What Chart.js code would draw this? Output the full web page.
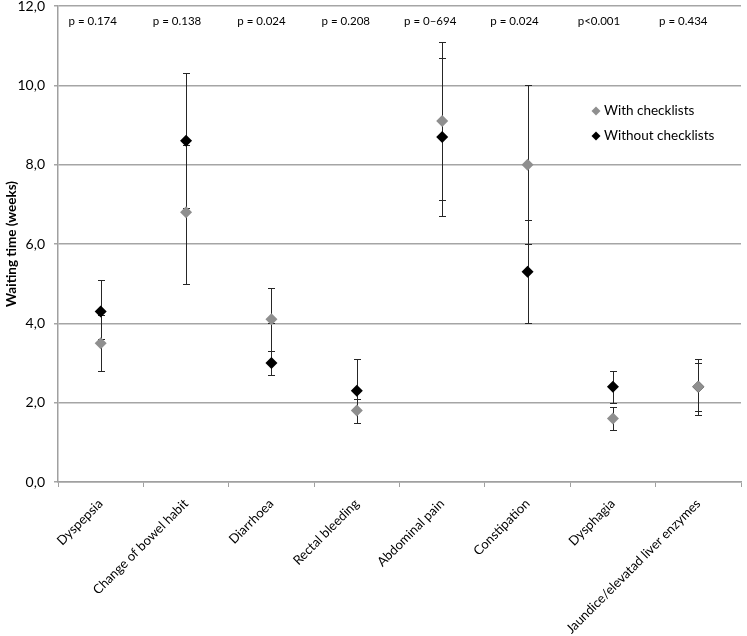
<!DOCTYPE html>
<html>
<head>
<meta charset="utf-8">
<script src="https://cdn.jsdelivr.net/npm/chart.js@4/dist/chart.umd.min.js"></script>
<style>
  html, body { margin: 0; padding: 0; background: #fff; }
  #wrap { width: 747px; height: 636px; position: relative; }
</style>
</head>
<body>
<div id="wrap"><canvas id="chart"></canvas></div>
<script>
// --- Data ---
const categories = ["Dyspepsia", "Change of bowel habit", "Diarrhoea", "Rectal bleeding",
    "Abdominal pain", "Constipation", "Dysphagia", "Jaundice/elevatad liver enzymes"];
const withMean    = [3.5, 6.8, 4.1, 1.8, 9.1, 8.0, 1.6, 2.4];
const withLow     = [2.8, 5.0, 3.3, 1.5, 7.1, 6.0, 1.3, 1.8];
const withHigh    = [4.2, 8.5, 4.9, 2.1, 11.1, 10.0, 1.9, 3.1];
const withoutMean = [4.3, 8.6, 3.0, 2.3, 8.7, 5.3, 2.4, 2.4];
const withoutLow  = [3.6, 6.9, 2.7, 1.8, 6.7, 4.0, 2.0, 1.7];
const withoutHigh = [5.1, 10.3, 4.0, 3.1, 10.7, 6.6, 2.8, 3.0];
const pValues = ["p = 0.174", "p = 0.138", "p = 0.024", "p = 0.208",
    "p = 0\u2013694", "p = 0.024", "p<0.001", "p = 0.434"];
const yTicks = [0, 2, 4, 6, 8, 10, 12];

const FONT = "Lato, sans-serif";
const GREY = "#8f8f8f";
const BLACK = "#000000";

// --- error bars, p labels and legend ---
const extras = {
    id: "extras",
    beforeDatasetsDraw(chart) {
        const { ctx, scales: { x, y } } = chart;
        const bars = [[withLow, withHigh], [withoutLow, withoutHigh]];
        ctx.save();
        ctx.strokeStyle = "#262626";
        ctx.lineWidth = 1;
        bars.forEach(([lo, hi]) => {
            lo.forEach((l, i) => {
                const px = Math.round(x.getPixelForValue(i)) + 0.5;
                const y1 = Math.round(y.getPixelForValue(l)) + 0.5;
                const y2 = Math.round(y.getPixelForValue(hi[i])) + 0.5;
                ctx.beginPath();
                ctx.moveTo(px, y1); ctx.lineTo(px, y2);
                ctx.moveTo(px - 3.5, y1); ctx.lineTo(px + 3.5, y1);
                ctx.moveTo(px - 3.5, y2); ctx.lineTo(px + 3.5, y2);
                ctx.stroke();
            });
        });
        ctx.restore();
    },
    afterDraw(chart) {
        const { ctx, scales: { x } } = chart;
        ctx.save();
        ctx.fillStyle = "#000";
        ctx.font = "11.5px " + FONT;
        ctx.textAlign = "center";
        ctx.textBaseline = "middle";
        // the p labels sit a little left of each category, drifting more to the right
        pValues.forEach((p, i) => ctx.fillText(p, x.getPixelForValue(i) - 8 - i, 21));

        // legend
        const items = [["With checklists", GREY, 111], ["Without checklists", BLACK, 136]];
        ctx.font = "13.5px " + FONT;
        ctx.textAlign = "left";
        items.forEach(([txt, col, ly]) => {
            ctx.fillStyle = col;
            ctx.beginPath();
            ctx.moveTo(596, ly - 4.5); ctx.lineTo(600.5, ly);
            ctx.lineTo(596, ly + 4.5); ctx.lineTo(591.5, ly);
            ctx.closePath(); ctx.fill();
            ctx.fillStyle = "#000";
            ctx.fillText(txt, 604, ly);
        });
        ctx.restore();
    }
};

const ctx = document.getElementById("chart").getContext("2d");
new Chart(ctx, {
    type: "line",
    data: {
        labels: categories,
        datasets: [
            { label: "With checklists", data: withMean, showLine: false,
              pointStyle: "rectRot", pointRadius: 6, pointHoverRadius: 6,
              backgroundColor: GREY, borderColor: GREY, borderWidth: 0 },
            { label: "Without checklists", data: withoutMean, showLine: false,
              pointStyle: "rectRot", pointRadius: 6, pointHoverRadius: 6,
              backgroundColor: BLACK, borderColor: BLACK, borderWidth: 0 }
        ]
    },
    options: {
        responsive: true,
        maintainAspectRatio: false,
        animation: false,
        layout: { padding: { top: 5, right: 1, left: 0, bottom: 0 } },
        plugins: { legend: { display: false }, tooltip: { enabled: false } },
        scales: {
            x: {
                offset: true,
                afterFit: (s) => { s.height = 154; s.paddingLeft = 0; s.paddingRight = 0; },
                grid: { offset: true, drawOnChartArea: false, drawTicks: true, tickLength: 5, color: "#a0a0a0" },
                border: { color: "#a0a0a0", width: 1.5 },
                ticks: {
                    maxRotation: 45, minRotation: 45, autoSkip: false, padding: 9,
                    color: "#000", font: { family: FONT, size: 13 }
                }
            },
            y: {
                min: 0, max: 12,
                afterFit: (s) => { s.width = 58; s.paddingTop = 0; s.paddingBottom = 0; },
                afterBuildTicks: (s) => { s.ticks = yTicks.map(v => ({ value: v })); },
                grid: { color: "#a5a5a5", lineWidth: 1.5, tickLength: 4 },
                border: { color: "#a0a0a0", width: 1.5 },
                ticks: {
                    padding: 9, color: "#000", font: { family: FONT, size: 14 },
                    callback: (v) => v.toFixed(1).replace(".", ",")
                },
                title: {
                    display: true, text: "Waiting time (weeks)", color: "#000",
                    font: { family: FONT, size: 13.5, weight: "bold" }, padding: { top: 4, bottom: 0 }
                }
            }
        }
    },
    plugins: [extras]
});
</script>
</body>
</html>
